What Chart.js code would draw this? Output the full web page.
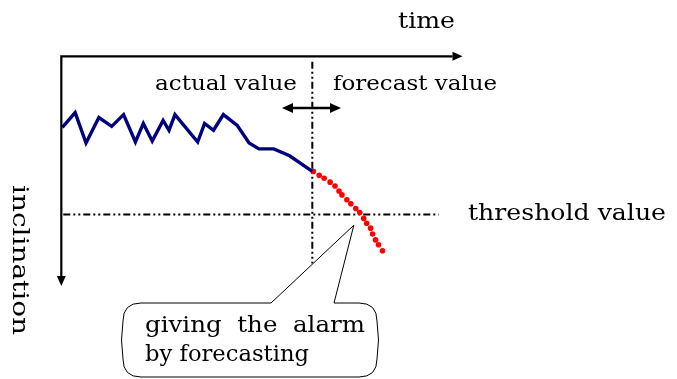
<!DOCTYPE html>
<html lang="en">
<head>
    <meta charset="UTF-8">
    <title>Forecast alarm</title>
    <script src="https://cdn.jsdelivr.net/npm/chart.js"></script>
    <style>
        body { margin: 0; background: #fff; }
        #wrap { width: 677px; height: 379px; }
    </style>
</head>
<body>
    <div id="wrap"><canvas id="alarmChart" width="677" height="379"></canvas></div>

    <script>
        // measured values (time, inclination)
        const actualTime = [0.1, 1.4, 2.5, 3.8, 5.1, 6.3, 7.5, 8.3, 9.2, 10.3, 10.9, 11.5, 13.8, 14.5, 15.4, 16.4, 17.8, 19.0, 20.0, 21.5, 23.1, 25.4];
        const actualIncl = [7.0, 5.5, 8.6, 6.0, 6.9, 5.7, 8.5, 6.6, 8.4, 6.3, 7.3, 5.7, 8.5, 6.6, 7.3, 5.7, 6.8, 8.6, 9.2, 9.2, 9.9, 11.5];

        // forecast
        const forecastTime = [25.5, 26.1, 26.6, 27.2, 27.7, 28.1, 28.4, 28.9, 29.3, 29.8, 30.2, 30.6, 30.9, 31.3, 31.5, 31.8, 32.1, 32.5];
        const forecastIncl = [11.5, 11.9, 12.2, 12.6, 13.0, 13.5, 13.9, 14.4, 14.8, 15.3, 15.7, 16.3, 16.8, 17.3, 17.9, 18.5, 19.0, 19.6];

        const thresholdIncl = 15.9;
        const thresholdSpan = [0.2, 38.2];
        const nowTime = 25.4;
        const nowSpan = [0.3, 20.9];
        const originIncl = -0.25;
        const timeAxisEnd = 40.6;
        const inclAxisEnd = 23.2;
        const alarmPoint = { t: 29.6, i: 17.0 };

        const font = '"DejaVu Serif", serif';
        const dashDotDot = [7, 3, 2, 3, 2, 3];

        function arrowHead(ctx, x, y, dx, dy, len, half) {
            ctx.beginPath();
            ctx.moveTo(x, y);
            ctx.lineTo(x - dx * len - dy * half, y - dy * len + dx * half);
            ctx.lineTo(x - dx * len + dy * half, y - dy * len - dx * half);
            ctx.closePath();
            ctx.fill();
        }

        // draw text stretched to the width it has in the original
        function label(ctx, text, x, y, size, width) {
            ctx.font = size + "px " + font;
            const w = ctx.measureText(text).width;
            ctx.save();
            ctx.translate(x, y);
            ctx.scale(width / w, 1);
            ctx.fillText(text, 0, 0);
            ctx.restore();
        }

        const diagramPlugin = {
            id: "diagram",
            afterDatasetsDraw(chart) {
                const ctx = chart.ctx;
                const xs = chart.scales.x, ys = chart.scales.y;
                const X = v => xs.getPixelForValue(v);
                const Y = v => ys.getPixelForValue(v);
                ctx.save();
                ctx.strokeStyle = "#000";
                ctx.fillStyle = "#000";

                // axes
                ctx.lineWidth = 2.2;
                ctx.beginPath();
                ctx.moveTo(X(0), Y(inclAxisEnd) - 10);
                ctx.lineTo(X(0), Y(originIncl));
                ctx.lineTo(X(timeAxisEnd) - 10, Y(originIncl));
                ctx.stroke();
                arrowHead(ctx, X(timeAxisEnd), Y(originIncl), 1, 0, 10, 4.5);
                arrowHead(ctx, X(0), Y(inclAxisEnd), 0, 1, 10, 4.5);

                // double arrow between actual and forecast
                const ay = 108;
                const ax1 = 282, ax2 = 341;
                ctx.lineWidth = 2.6;
                ctx.beginPath();
                ctx.moveTo(ax1 + 8, ay);
                ctx.lineTo(ax2 - 8, ay);
                ctx.stroke();
                arrowHead(ctx, ax2, ay, 1, 0, 11, 5);
                arrowHead(ctx, ax1, ay, -1, 0, 11, 5);

                // callout
                ctx.lineWidth = 1;
                const bx1 = 123, bx2 = 377, by1 = 303, by2 = 377, r = 18;
                const tip = { x: X(alarmPoint.t), y: Y(alarmPoint.i) };
                ctx.beginPath();
                ctx.moveTo(bx1 + r, by1);
                ctx.lineTo(271, by1);
                ctx.lineTo(tip.x, tip.y);
                ctx.lineTo(334, by1);
                ctx.lineTo(bx2 - r, by1);
                ctx.quadraticCurveTo(bx2, by1, bx2, by1 + r);
                ctx.quadraticCurveTo(bx2 + 3, (by1 + by2) / 2, bx2, by2 - r);
                ctx.quadraticCurveTo(bx2, by2, bx2 - r, by2);
                ctx.lineTo(bx1 + r, by2);
                ctx.quadraticCurveTo(bx1, by2, bx1, by2 - r);
                ctx.quadraticCurveTo(bx1 - 3, (by1 + by2) / 2, bx1, by1 + r);
                ctx.quadraticCurveTo(bx1, by1, bx1 + r, by1);
                ctx.fillStyle = "#fff";
                ctx.fill();
                ctx.stroke();

                // texts
                ctx.fillStyle = "#000";
                ctx.textBaseline = "alphabetic";
                ctx.textAlign = "left";
                label(ctx, "time", 398, 28, 22, 57);
                label(ctx, "actual value", 155, 90, 21, 142);
                label(ctx, "forecast value", 333, 90, 21, 164);
                label(ctx, "threshold value", 468, 220, 22, 198);

                label(ctx, "giving  the  alarm", 145, 332, 23, 220);
                label(ctx, "by forecasting", 145, 361, 23, 164);

                ctx.save();
                ctx.translate(13, 185);
                ctx.rotate(Math.PI / 2);
                label(ctx, "inclination", 0, 0, 22, 150);
                ctx.restore();

                ctx.restore();
            }
        };

        new Chart(document.getElementById("alarmChart"), {
            type: "scatter",
            data: {
                datasets: [
                    {
                        label: "actual value",
                        data: actualTime.map((t, k) => ({ x: t, y: actualIncl[k] })),
                        showLine: true,
                        borderColor: "#00007f",
                        borderWidth: 3.4,
                        pointRadius: 0,
                        tension: 0
                    },
                    {
                        label: "forecast value",
                        data: forecastTime.map((t, k) => ({ x: t, y: forecastIncl[k] })),
                        showLine: false,
                        backgroundColor: "#ff0000",
                        borderWidth: 0,
                        pointRadius: 2.8
                    },
                    {
                        label: "threshold value",
                        data: thresholdSpan.map(t => ({ x: t, y: thresholdIncl })),
                        showLine: true,
                        borderColor: "#000",
                        borderWidth: 2,
                        borderDash: dashDotDot,
                        pointRadius: 0
                    },
                    {
                        label: "now",
                        data: nowSpan.map(v => ({ x: nowTime, y: v })),
                        showLine: true,
                        borderColor: "#000",
                        borderWidth: 2,
                        borderDash: dashDotDot,
                        pointRadius: 0
                    }
                ]
            },
            options: {
                responsive: false,
                animation: false,
                devicePixelRatio: 1,
                layout: { padding: 0 },
                plugins: { legend: { display: false }, tooltip: { enabled: false } },
                scales: {
                    x: { type: "linear", min: -5.8, max: 61.9, display: false },
                    y: { type: "linear", min: -5.6, max: 32.3, reverse: true, display: false }
                }
            },
            plugins: [diagramPlugin]
        });
    </script>
</body>
</html>
